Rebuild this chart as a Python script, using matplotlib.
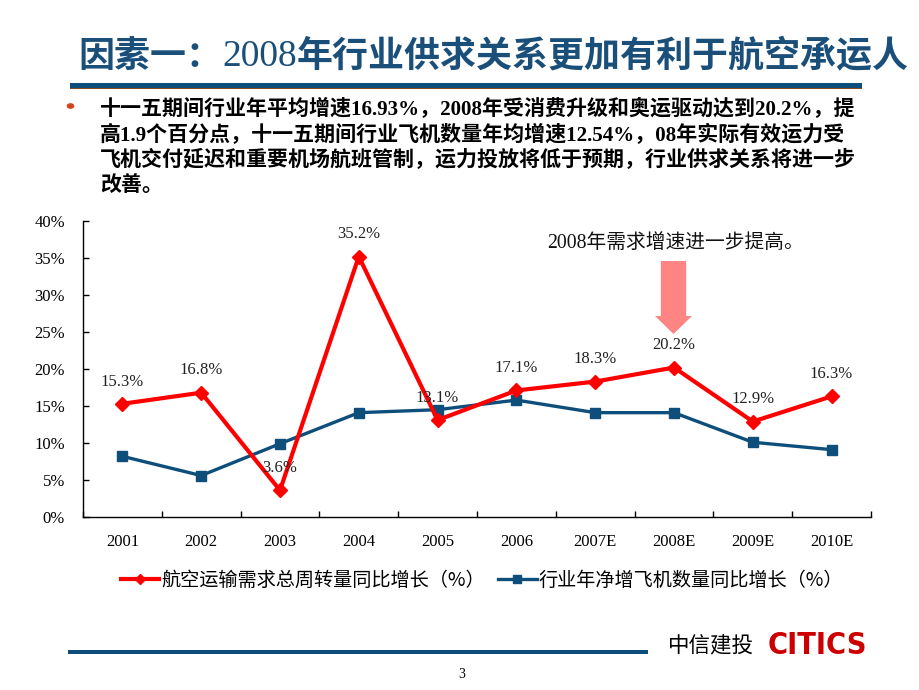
import matplotlib
matplotlib.use("Agg")
import matplotlib.pyplot as plt
from matplotlib.lines import Line2D
from matplotlib.patches import Rectangle, FancyArrow, Circle

plt.rcParams['font.family'] = ['Liberation Serif', 'Noto Sans CJK SC', 'DejaVu Sans']

years = ['2001', '2002', '2003', '2004', '2005', '2006', '2007E', '2008E', '2009E', '2010E']
demand = [15.3, 16.8, 3.6, 35.2, 13.1, 17.1, 18.3, 20.2, 12.9, 16.3]
fleet = [8.2, 5.6, 9.9, 14.1, 14.5, 15.8, 14.1, 14.1, 10.1, 9.1]
yticks = [0, 5, 10, 15, 20, 25, 30, 35, 40]
name_demand = '航空运输需求总周转量同比增长（%）'
name_fleet = '行业年净增飞机数量同比增长（%）'
title_a = '因素一：'
title_b = '2008'
title_c = '年行业供求关系更加有利于航空承运人'
bullet_lines = [
    '十一五期间行业年平均增速16.93%，2008年受消费升级和奥运驱动达到20.2%，提',
    '高1.9个百分点，十一五期间行业飞机数量年均增速12.54%，08年实际有效运力受',
    '飞机交付延迟和重要机场航班管制，运力投放将低于预期，行业供求关系将进一步',
    '改善。',
]
note = '2008年需求增速进一步提高。'

RED = '#FF0000'
BLUE = '#0E4E7B'
TITLE = '#1A4F7A'

W, H = 920, 690
fig = plt.figure(figsize=(9.2, 6.9), dpi=100)
fig.patch.set_facecolor('white')

def fx(px):
    return px / W

def fy(py):
    return 1 - py / H

# ---- title ----
renderer = fig.canvas.get_renderer()
t1 = fig.text(fx(78), fy(57), title_a, fontsize=25.9, color=TITLE, fontweight='bold',
              family=['Noto Sans CJK SC'], va='center', ha='left')
bb = t1.get_window_extent(renderer)
t2 = fig.text(bb.x1 / W, fy(57), title_b, fontsize=27, color=TITLE,
              family=['Liberation Serif'], va='center', ha='left')
bb = t2.get_window_extent(renderer)
t3 = fig.text(bb.x1 / W, fy(57), title_c, fontsize=25.9, color=TITLE, fontweight='bold',
              family=['Noto Sans CJK SC'], va='center', ha='left')

fig.add_artist(Rectangle((fx(70), fy(88)), fx(862) - fx(70), 5 / H,
                         transform=fig.transFigure, color=BLUE, lw=0))
fig.add_artist(Rectangle((fx(70), fy(89.3)), fx(862) - fx(70), 1.3 / H,
                         transform=fig.transFigure, color='#8B4A1C', lw=0))

# ---- bullet text ----
fig.add_artist(Circle((fx(70.5), fy(106)), 3.8 / W, transform=fig.transFigure,
                      color='#D0451B', lw=0))
for i, line in enumerate(bullet_lines):
    fig.text(fx(100), fy(110 + 25.3 * i), line, fontsize=15.1, fontweight='bold',
             color='black', va='center', ha='left')

# ---- chart ----
ax = fig.add_axes([fx(83), fy(517), fx(871) - fx(83), (517 - 221) / H])
x = list(range(len(years)))
ax.plot(x, demand, color=RED, lw=3.0, marker='D', ms=7, mec=RED, mfc=RED,
        label=name_demand, zorder=4)
ax.plot(x, fleet, color=BLUE, lw=2.4, marker='s', ms=7.5, mec=BLUE, mfc=BLUE,
        label=name_fleet, zorder=3)
for xi, v in zip(x, demand):
    ax.annotate(f'{v:.1f}%', (xi, v), xytext=(0, 16), textcoords='offset points',
                ha='center', va='center', fontsize=12, color='#222222', zorder=5)

ax.set_xlim(-0.5, len(years) - 0.5)
ax.set_ylim(0, 40)
ax.set_yticks(yticks)
ax.set_yticklabels([f'{t}%' for t in yticks])
ax.set_xticks(x)
ax.set_xticklabels(years)
ax.set_xticks([i - 0.5 for i in range(len(years) + 1)], minor=True)
ax.tick_params(axis='x', which='major', length=0, pad=12, labelsize=12)
ax.tick_params(axis='x', which='minor', length=4, direction='in', width=1)
ax.tick_params(axis='y', which='major', length=4, direction='in', width=1, pad=13, labelsize=12)
for s in ['top', 'right']:
    ax.spines[s].set_visible(False)
for s in ['left', 'bottom']:
    ax.spines[s].set_color('black')
    ax.spines[s].set_linewidth(1)
ax.set_facecolor('white')

leg = ax.legend(loc='center', bbox_to_anchor=(fx(482), fy(580)),
                bbox_transform=fig.transFigure, ncol=2, frameon=False,
                prop={'family': ['Noto Sans CJK SC'], 'size': 13.8},
                handlelength=2.0, handletextpad=0.12, columnspacing=0.7,
                markerscale=0.8)

# annotation text and arrow
fig.text(fx(675), fy(243), note, fontsize=14.2, color='#111111', ha='center', va='center')
fig.add_artist(FancyArrow(fx(673.5), fy(261), 0, -(334 - 261) / H, width=19 / H,
                          head_width=37 / W * 1.0, head_length=18 / H,
                          length_includes_head=True, transform=fig.transFigure,
                          color='#FF8484', lw=0))

# ---- footer ----
fig.add_artist(Rectangle((fx(68), fy(654)), fx(648) - fx(68), 4 / H,
                         transform=fig.transFigure, color=BLUE, lw=0))
fig.text(fx(668), fy(645), '中信建投', fontsize=15.5, family=['Noto Sans CJK SC'],
         color='black', ha='left', va='center')
fig.text(fx(768), fy(645), 'CITICS', fontsize=22, family=['DejaVu Sans'],
         fontweight='heavy', fontstretch='condensed', color='#CC0000', ha='left', va='center')
fig.text(fx(462), fy(675), '3', fontsize=10, color='black', ha='center', va='center')

fig.savefig('out.png', dpi=100, facecolor='white')
